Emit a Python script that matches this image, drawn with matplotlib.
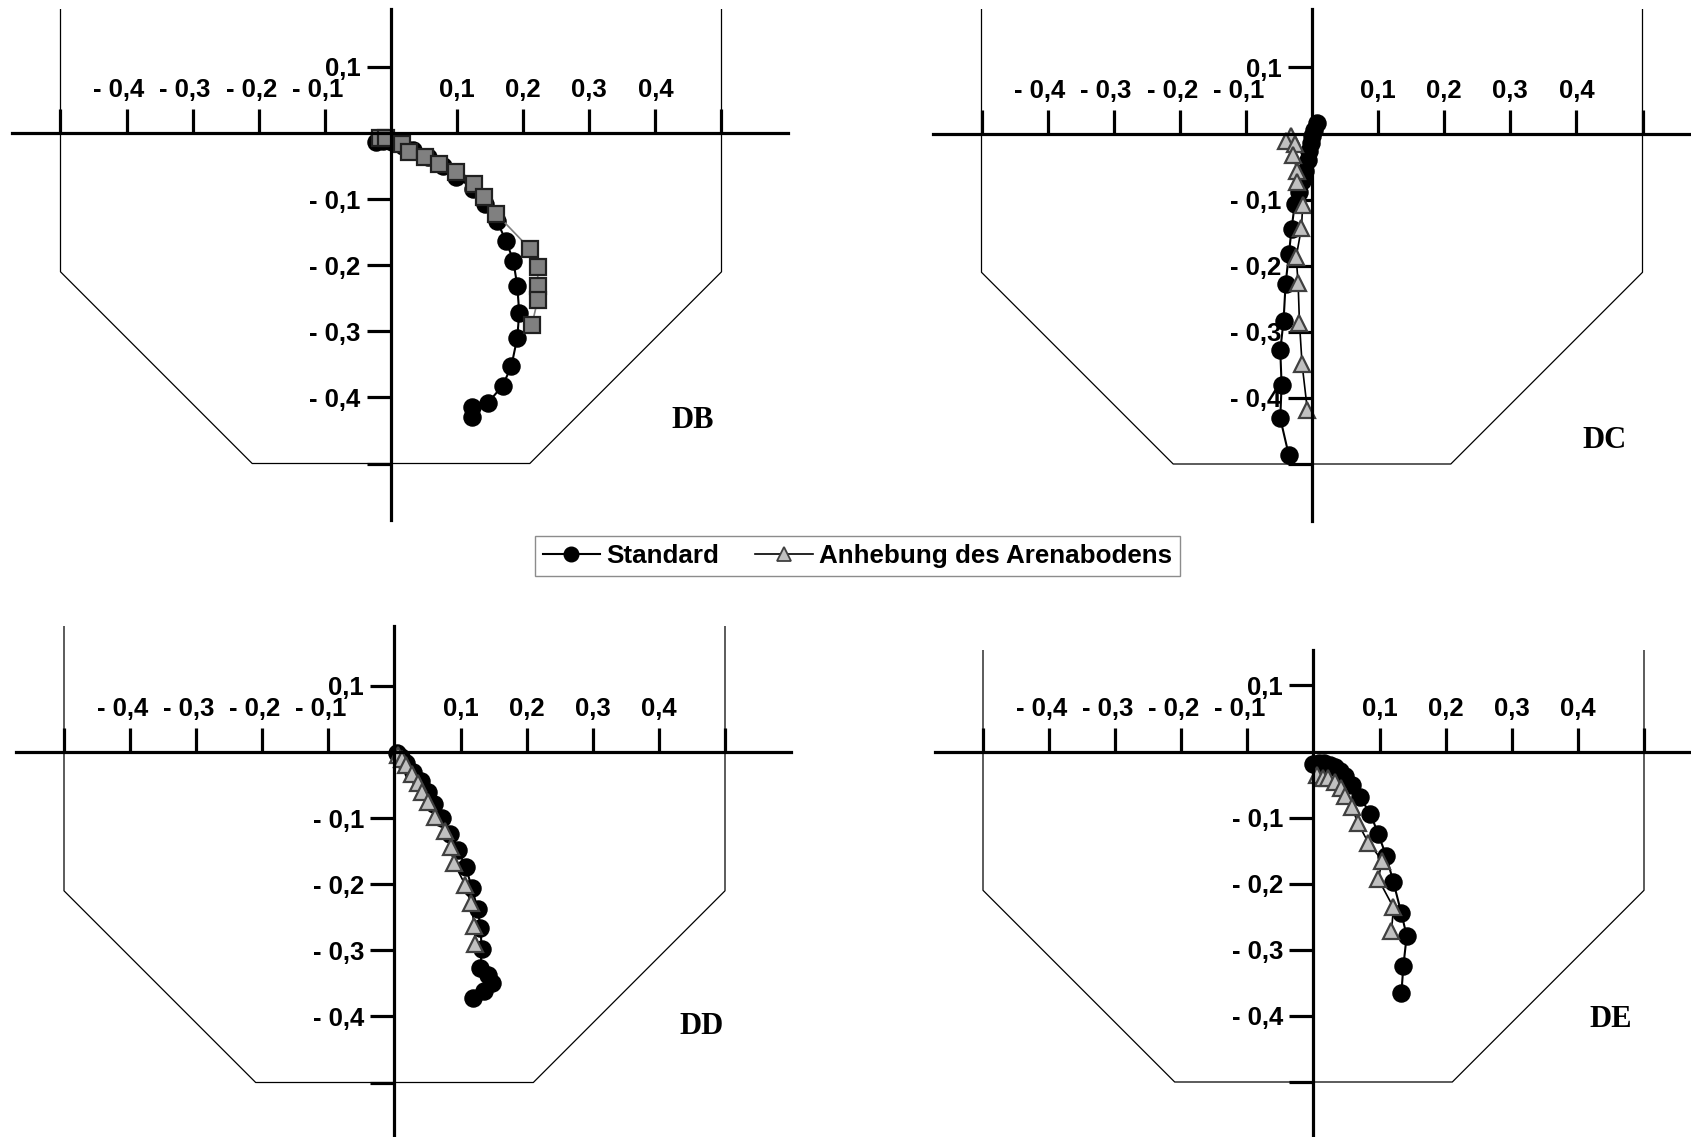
import matplotlib
matplotlib.use('Agg')
from matplotlib import pyplot as plt
from matplotlib.lines import Line2D
import matplotlib.transforms as mtrans

plt.rcParams['font.family'] = ['Liberation Sans', 'DejaVu Sans']
plt.rcParams['font.weight'] = 'bold'

# ---- data (x, y displacement) ----
db_std_x = [-0.022, -0.012, 0.002, 0.018, 0.034, 0.056, 0.078, 0.099, 0.124, 0.142, 0.160,
            0.174, 0.185, 0.191, 0.194, 0.191, 0.182, 0.169, 0.146, 0.122, 0.122]
db_std_y = [-0.014, -0.012, -0.014, -0.019, -0.026, -0.037, -0.050, -0.066, -0.084, -0.108, -0.133,
            -0.163, -0.193, -0.231, -0.272, -0.310, -0.353, -0.382, -0.409, -0.414, -0.430]
db_sq_x = [-0.017, -0.008, 0.016, 0.027, 0.052, 0.073, 0.099, 0.126, 0.141, 0.159,
           0.210, 0.222, 0.222, 0.222, 0.213]
db_sq_y = [-0.007, -0.008, -0.016, -0.029, -0.036, -0.047, -0.059, -0.077, -0.097, -0.122,
           -0.175, -0.202, -0.232, -0.252, -0.291]

dc_std_x = [0.007, 0.003, 0.000, -0.002, -0.004, -0.006, -0.010, -0.015, -0.020, -0.026,
            -0.031, -0.035, -0.040, -0.043, -0.048, -0.046, -0.048, -0.035]
dc_std_y = [0.016, 0.006, -0.004, -0.014, -0.027, -0.040, -0.056, -0.072, -0.088, -0.106,
            -0.145, -0.183, -0.228, -0.283, -0.328, -0.380, -0.431, -0.487]
dc_anh_x = [-0.032, -0.039, -0.026, -0.029, -0.022, -0.022, -0.014, -0.016, -0.024, -0.021,
            -0.019, -0.015, -0.007]
dc_anh_y = [-0.004, -0.012, -0.016, -0.032, -0.057, -0.074, -0.108, -0.143, -0.187, -0.226,
            -0.286, -0.349, -0.418]

dd_std_x = [0.004, 0.010, 0.018, 0.028, 0.040, 0.050, 0.060, 0.072, 0.084, 0.096, 0.108,
            0.117, 0.126, 0.130, 0.132, 0.130, 0.142, 0.147, 0.136, 0.119]
dd_std_y = [-0.002, -0.008, -0.016, -0.030, -0.044, -0.060, -0.078, -0.100, -0.124, -0.149, -0.174,
            -0.206, -0.238, -0.266, -0.298, -0.327, -0.338, -0.350, -0.362, -0.372]
dd_anh_x = [0.006, 0.011, 0.018, 0.026, 0.035, 0.042, 0.050, 0.062, 0.076, 0.086, 0.090,
            0.107, 0.115, 0.121, 0.122]
dd_anh_y = [-0.004, -0.010, -0.020, -0.033, -0.047, -0.061, -0.076, -0.098, -0.119, -0.144, -0.168,
            -0.201, -0.228, -0.263, -0.290]

de_std_x = [0.000, 0.008, 0.016, 0.025, 0.033, 0.040, 0.048, 0.058, 0.070, 0.086, 0.098,
            0.110, 0.121, 0.133, 0.141, 0.136, 0.133]
de_std_y = [-0.019, -0.018, -0.018, -0.020, -0.024, -0.029, -0.037, -0.050, -0.069, -0.094, -0.125,
            -0.158, -0.198, -0.245, -0.279, -0.324, -0.365]
de_anh_x = [0.006, 0.014, 0.022, 0.032, 0.042, 0.048, 0.058, 0.067, 0.083, 0.104, 0.098,
            0.121, 0.118]
de_anh_y = [-0.036, -0.040, -0.040, -0.046, -0.055, -0.068, -0.084, -0.108, -0.138, -0.165, -0.193,
            -0.236, -0.271]

x_ticks = [-0.5, -0.4, -0.3, -0.2, -0.1, 0.1, 0.2, 0.3, 0.4, 0.5]
x_labels = ['', '- 0,4', '- 0,3', '- 0,2', '- 0,1', '0,1', '0,2', '0,3', '0,4', '']
y_ticks = [0.1, -0.1, -0.2, -0.3, -0.4, -0.5]
y_labels = ['0,1', '- 0,1', '- 0,2', '- 0,3', '- 0,4', '']

# outline of the cross section (x, y); top end follows the panel
out_x = [-0.5, -0.5, -0.21, 0.21, 0.5, 0.5]
out_y = [None, -0.21, -0.5, -0.5, -0.21, None]

W, H = 1691, 1137
S = 661.0  # pixels per metre
XL = (-0.573, 0.6)

std_style = dict(color='black', lw=1.5, marker='o', ms=12.3, mfc='black', mec='black')
anh_style = dict(color='black', lw=1.2, marker='^', ms=12, mfc='#c0c0c0', mec='#404040', mew=1.6)
sq_style = dict(color='#808080', lw=1.2, marker='s', ms=11, mfc='#808080', mec='#202020', mew=1.6)


def panel(fig, ox, oy, ytop, ybot):
    left = ox + XL[0] * S
    right = ox + XL[1] * S
    top = oy - ytop * S
    bot = oy - ybot * S
    ax = fig.add_axes([left / W, (H - bot) / H, (right - left) / W, (bot - top) / H])
    ax.set_xlim(XL)
    ax.set_ylim(ybot, ytop)
    ax.patch.set_visible(False)
    for s in ['bottom', 'right']:
        ax.spines[s].set_visible(False)
    ax.spines['top'].set_position(('data', 0))
    ax.spines['left'].set_position(('data', 0))
    ax.spines['top'].set_linewidth(2.3)
    ax.spines['left'].set_linewidth(2.3)
    ax.xaxis.set_ticks_position('top')
    ax.yaxis.set_ticks_position('left')
    ax.set_xticks(x_ticks)
    ax.set_xticklabels(x_labels)
    ax.set_yticks(y_ticks)
    ax.set_yticklabels(y_labels)
    ax.tick_params(axis='x', direction='out', length=17, width=2.3, labelsize=18.5, pad=5)
    ax.tick_params(axis='y', direction='out', length=17, width=2.3, labelsize=18.5, pad=5)
    # negative x labels sit a little left of their ticks
    shift = mtrans.ScaledTranslation(-5.5 / 72, 0, fig.dpi_scale_trans)
    for t, lab in zip(x_ticks, ax.get_xticklabels(which='major')):
        if t < 0:
            lab.set_transform(lab.get_transform() + shift)
    oy_vals = [ytop if v is None else v for v in out_y]
    ax.plot(out_x, oy_vals, color='black', lw=0.9)
    return ax


fig = plt.figure(figsize=(W / 100, H / 100), dpi=100)

ax = panel(fig, 391, 133, 0.188, -0.586)
ax.plot(db_std_x, db_std_y, **std_style)
ax.plot(db_sq_x, db_sq_y, **sq_style)
ax.text(0.456, -0.435, 'DB', ha='center', va='center', family='Liberation Serif',
        fontweight='bold', fontsize=22)

ax = panel(fig, 1312, 133.5, 0.188, -0.586)
ax.plot(dc_std_x, dc_std_y, **std_style)
ax.plot(dc_anh_x, dc_anh_y, **anh_style)
ax.text(0.443, -0.464, 'DC', ha='center', va='center', family='Liberation Serif',
        fontweight='bold', fontsize=22)

ax = panel(fig, 394.5, 752, 0.191, -0.62)
ax.plot(dd_std_x, dd_std_y, **std_style)
ax.plot(dd_anh_x, dd_anh_y, **anh_style)
ax.text(0.464, -0.415, 'DD', ha='center', va='center', family='Liberation Serif',
        fontweight='bold', fontsize=22)

ax = panel(fig, 1313.5, 751.5, 0.153, -0.62)
ax.plot(de_std_x, de_std_y, **std_style)
ax.plot(de_anh_x, de_anh_y, **anh_style)
ax.text(0.450, -0.406, 'DE', ha='center', va='center', family='Liberation Serif',
        fontweight='bold', fontsize=22)

h1 = Line2D([], [], color='black', lw=1.5, marker='o', ms=10.5, mfc='black', mec='black')
h2 = Line2D([], [], color='black', lw=1.2, marker='^', ms=10.5, mfc='#c0c0c0', mec='#404040', mew=1.3)
leg = fig.legend([h1, h2], ['Standard', 'Anhebung des Arenabodens'], loc='center',
                 bbox_to_anchor=(0.507, 0.511), ncol=2, fancybox=False, edgecolor='#707070',
                 prop={'size': 18.7, 'weight': 'bold'}, handlelength=2.2, handletextpad=0.25,
                 columnspacing=1.4, borderpad=0.3, borderaxespad=0)
leg.get_frame().set_linewidth(1.0)

fig.savefig('out.png', dpi=100)
